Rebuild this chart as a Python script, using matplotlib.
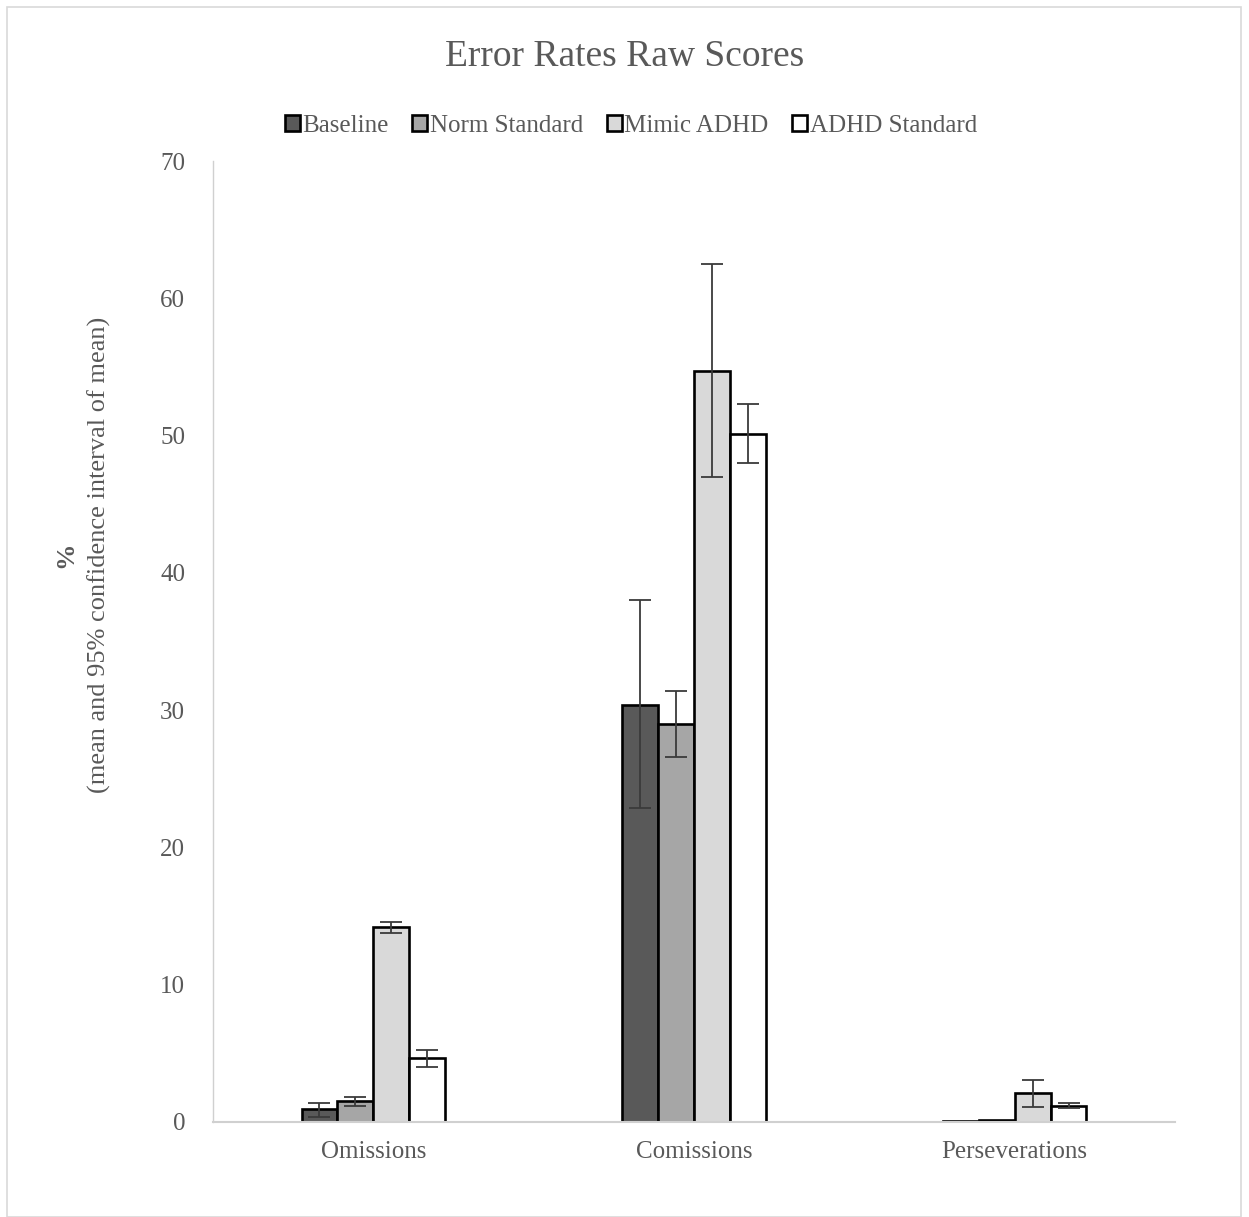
import matplotlib
matplotlib.use('Agg')
import matplotlib.pyplot as plt
import numpy as np
from matplotlib.patches import Rectangle

plt.rcParams['font.family'] = ['Liberation Serif', 'DejaVu Serif']

categories = ['Omissions', 'Comissions', 'Perseverations']
series = ['Baseline', 'Norm Standard', 'Mimic ADHD', 'ADHD Standard']
colors = ['#595959', '#a6a6a6', '#d9d9d9', '#ffffff']

means = [
    [0.95, 30.4, 0.05],   # Baseline
    [1.55, 29.0, 0.15],   # Norm Standard
    [14.2, 54.7, 2.1],    # Mimic ADHD
    [4.65, 50.1, 1.2],    # ADHD Standard
]
err_lo = [
    [0.36, 22.9, 0.05],
    [1.2, 26.6, 0.15],
    [13.8, 47.0, 1.1],
    [4.0, 48.0, 1.0],
]
err_hi = [
    [1.38, 38.0, 0.05],
    [1.85, 31.4, 0.15],
    [14.6, 62.5, 3.05],
    [5.25, 52.3, 1.38],
]

txt = '#595959'
fig = plt.figure(figsize=(12.49, 12.17), dpi=100)
ax = fig.add_axes([213/1249, 1-1122/1217, 962/1249, 961/1217])

x = np.arange(len(categories))
w = 0.112
for i, s in enumerate(series):
    pos = x + (i - 1.5) * w
    m = np.array(means[i])
    lo = m - np.array(err_lo[i])
    hi = np.array(err_hi[i]) - m
    ax.bar(pos, m, w, color=colors[i], edgecolor='black', linewidth=1.9, label=s, zorder=2)
    # tiny perseveration bars have no visible whiskers
    show = m > 0.5
    ax.errorbar(pos[show], m[show], yerr=[lo[show], hi[show]], fmt='none',
                ecolor='#3a3a3a', elinewidth=1.3, capsize=8, capthick=1.3, zorder=3)

ax.set_xlim(-0.5, 2.5)
ax.set_ylim(0, 70)
ax.set_yticks(range(0, 71, 10))
ax.set_xticks(x)
ax.set_xticklabels(categories)
ax.tick_params(axis='both', labelsize=18, colors=txt, length=0)
ax.tick_params(axis='x', pad=14)
ax.tick_params(axis='y', pad=20)
for sp in ['top', 'right']:
    ax.spines[sp].set_visible(False)
for sp in ['left', 'bottom']:
    ax.spines[sp].set_color('#d0d0d0')
ax.spines['bottom'].set_linewidth(1.5)
ax.spines['left'].set_linewidth(1.0)

fig.text(0.5, 1-57/1217, 'Error Rates Raw Scores', ha='center', va='center',
         fontsize=27, color=txt)
fig.text(66/1249, 1-555/1217, '%', rotation=90, ha='center', va='center',
         fontsize=19, color=txt, fontweight='bold')
fig.text(99/1249, 1-555/1217, '(mean and 95% confidence interval of mean)', rotation=90,
         ha='center', va='center', fontsize=19, color=txt)

leg = fig.legend(loc='center', bbox_to_anchor=(0.505, 1-126/1217), ncol=4, frameon=False,
                 fontsize=18, handlelength=0.6, handleheight=0.6, handletextpad=0.1,
                 columnspacing=0.95)
for t in leg.get_texts():
    t.set_color(txt)

fig.patches.append(Rectangle((7/1249, 0), 1234/1249, 1-7/1217, transform=fig.transFigure,
                             fill=False, edgecolor='#d9d9d9', linewidth=1.2))

plt.savefig('out.png', dpi=100)
